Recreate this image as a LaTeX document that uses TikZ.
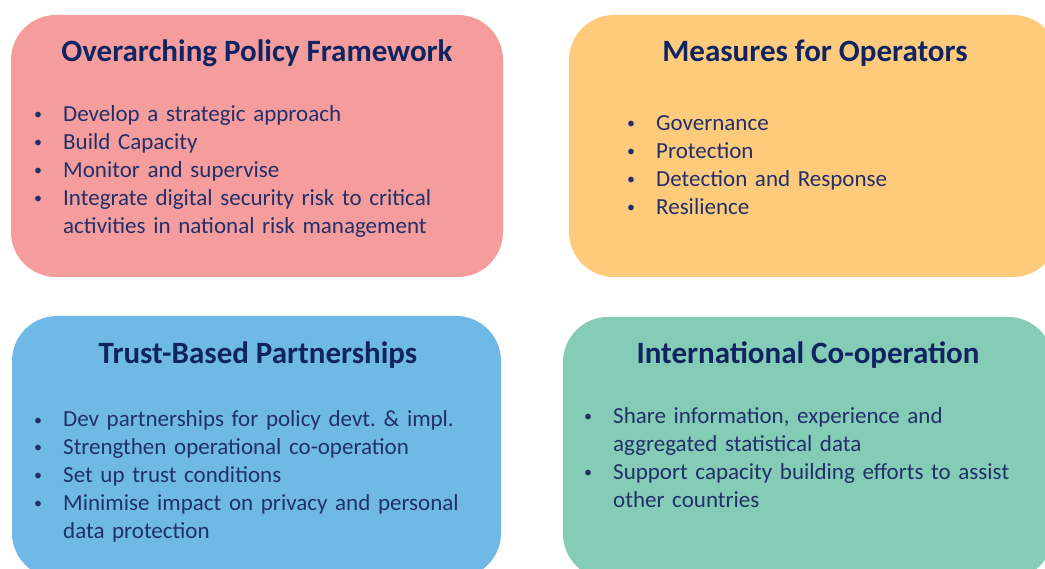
\documentclass[tikz,border=0pt]{standalone}
\usepackage{fontspec}
\setmainfont{Carlito}
\usetikzlibrary{positioning}
\definecolor{clrPF}{HTML}{F59D9C}
\definecolor{clrMO}{HTML}{FECA7C}
\definecolor{clrTB}{HTML}{6FB9E7}
\definecolor{clrIC}{HTML}{84CCB5}
\definecolor{clrHd}{HTML}{102462}
\definecolor{clrTx}{HTML}{22306A}
% one bullet line, hanging indent for wrapped text
\newcommand{\bul}[1]{\par\noindent\hangindent=31pt\hangafter=1%
  \makebox[31pt][l]{\strut\hspace{2pt}\raisebox{2pt}{\fontsize{16}{16}\selectfont\textbullet}}#1}

\begin{document}
\begin{tikzpicture}[x=1pt,y=-1pt,
    panel/.style={rounded corners=45pt,inner sep=0pt},
    ptitle/.style={anchor=base,inner sep=0pt,text=clrHd,font=\fontsize{31}{37}\selectfont\bfseries},
    plist/.style={anchor=north west,inner sep=0pt,text width=460pt,text=clrTx,font=\fontsize{23}{27.8}\selectfont}]
  \useasboundingbox (0,0) rectangle (1045,569);
  \clip (0,0) rectangle (1045,569);

  % --- panels ---
  \node[panel,fill=clrPF,minimum width=492pt,minimum height=262pt] (pf)  at (257,146) {};
  \node[panel,fill=clrMO,minimum width=489pt,minimum height=262pt] (mo)  at (813.5,146) {};
  \node[panel,fill=clrTB,minimum width=489pt,minimum height=262pt] (tbp) at (256.5,447) {};
  \node[panel,fill=clrIC,minimum width=490pt,minimum height=262pt] (ico) at (808,448) {};

  % --- titles ---
  \node[ptitle] (pfT)  at (257,62)  {Overarching Policy Framework};
  \node[ptitle] (moT)  at (815,62)  {Measures for Operators};
  \node[ptitle] (tbpT) at (258,364) {Trust-Based Partnerships};
  \node[ptitle] (icoT) at (808,364) {International Co-operation};

  % --- bullet lists ---
  \node[plist] (pfL) at (32,94) {%
    \bul{Develop a strategic approach}
    \bul{Build Capacity}
    \bul{Monitor and supervise}
    \bul{Integrate digital security risk to critical\newline activities in national risk management}\par};
  \node[plist] (moL) at (625,103) {%
    \bul{Governance}
    \bul{Protection}
    \bul{Detection and Response}
    \bul{Resilience}\par};
  \node[plist] (tbpL) at (32,399) {%
    \bul{Dev partnerships for policy devt.\ \& impl.}
    \bul{Strengthen operational co-operation}
    \bul{Set up trust conditions}
    \bul{Minimise impact on privacy and personal\newline data protection}\par};
  \node[plist] (icoL) at (582,396) {%
    \bul{Share information, experience and\newline aggregated statistical data}
    \bul{Support capacity building efforts to assist\newline other countries}\par};
\end{tikzpicture}
\end{document}
